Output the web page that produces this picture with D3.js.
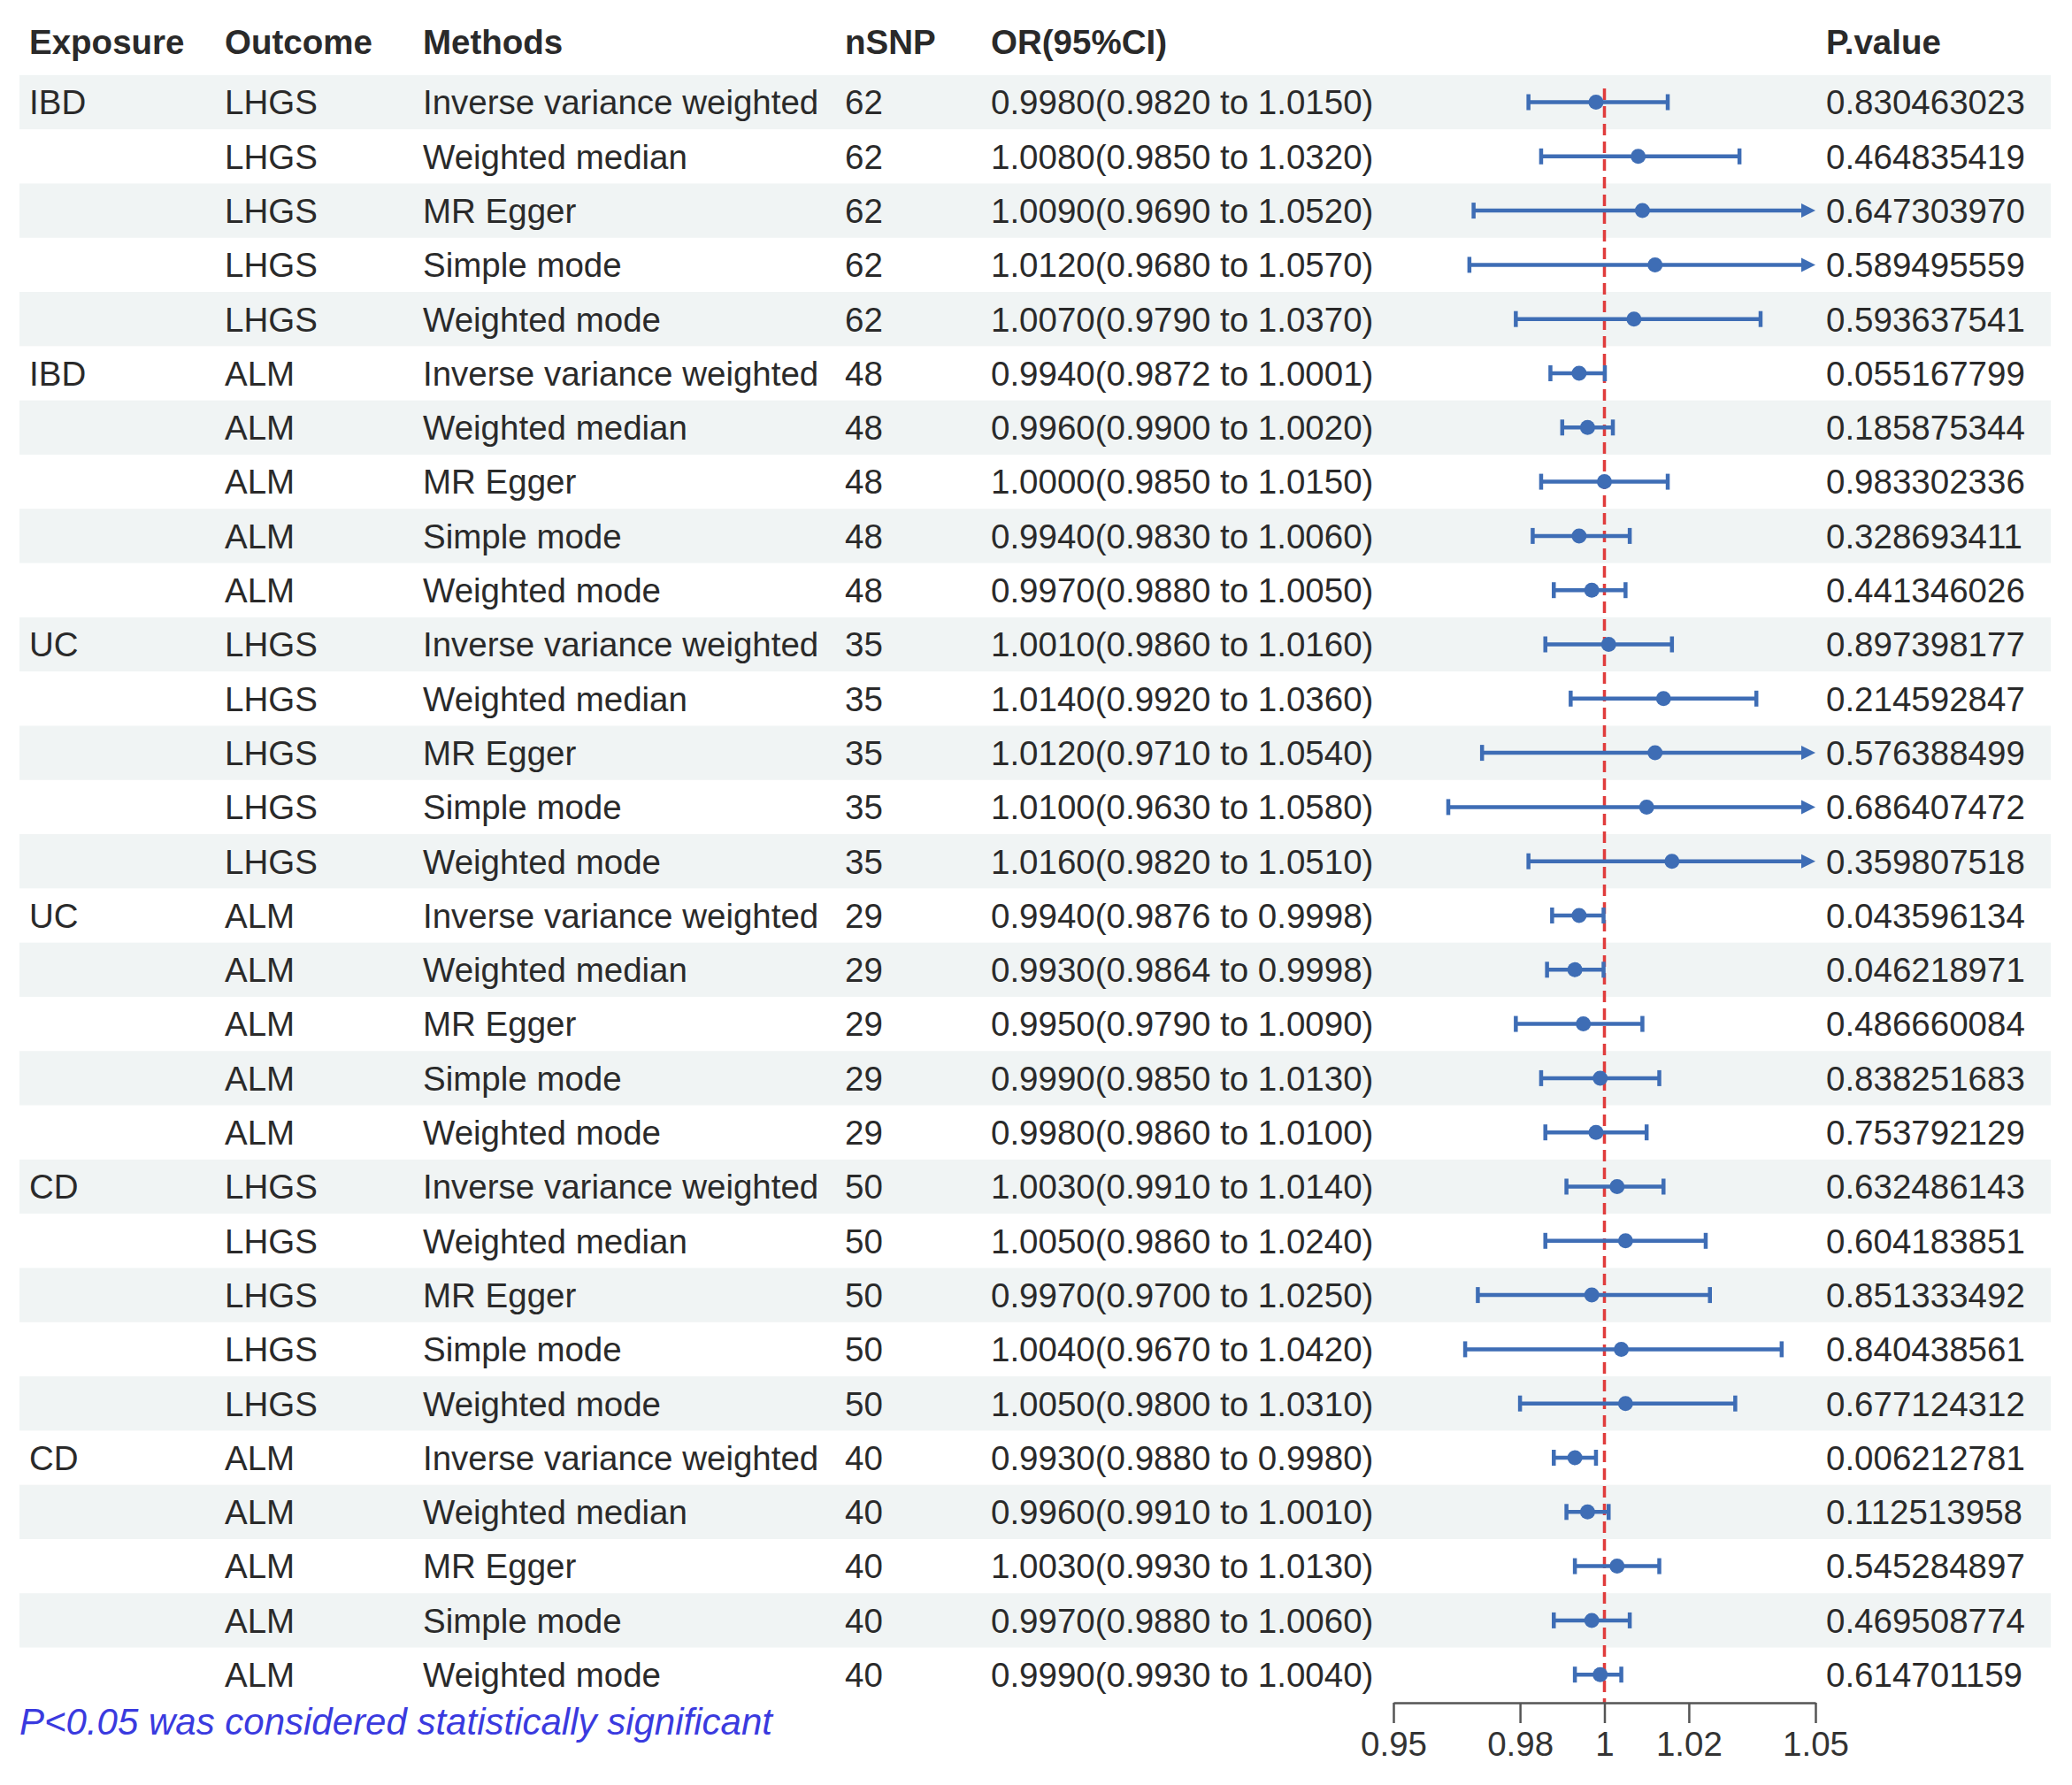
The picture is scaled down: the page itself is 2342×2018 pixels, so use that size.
<!DOCTYPE html>
<html>
<head>
<meta charset="utf-8">
<script src="https://cdn.jsdelivr.net/npm/d3@7"></script>
<style>
  html, body { margin: 0; padding: 0; background: #fff; }
  svg { display: block; }
</style>
</head>
<body>
<svg id="chart" width="2342" height="2018"></svg>
<script>
// ---------------- data ----------------
const headers = ["Exposure", "Outcome", "Methods", "nSNP", "OR(95%CI)", "P.value"];
const exposure = ["IBD","","","","", "IBD","","","","", "UC","","","","", "UC","","","","", "CD","","","","", "CD","","","",""];
const outcome = ["LHGS","LHGS","LHGS","LHGS","LHGS", "ALM","ALM","ALM","ALM","ALM",
                 "LHGS","LHGS","LHGS","LHGS","LHGS", "ALM","ALM","ALM","ALM","ALM",
                 "LHGS","LHGS","LHGS","LHGS","LHGS", "ALM","ALM","ALM","ALM","ALM"];
const methodNames = ["Inverse variance weighted","Weighted median","MR Egger","Simple mode","Weighted mode"];
const methods = d3.range(30).map(i => methodNames[i % 5]);
const nsnp = [62,62,62,62,62, 48,48,48,48,48, 35,35,35,35,35, 29,29,29,29,29, 50,50,50,50,50, 40,40,40,40,40];
const orValue = [0.9980,1.0080,1.0090,1.0120,1.0070, 0.9940,0.9960,1.0000,0.9940,0.9970,
                 1.0010,1.0140,1.0120,1.0100,1.0160, 0.9940,0.9930,0.9950,0.9990,0.9980,
                 1.0030,1.0050,0.9970,1.0040,1.0050, 0.9930,0.9960,1.0030,0.9970,0.9990];
const ciLow = [0.9820,0.9850,0.9690,0.9680,0.9790, 0.9872,0.9900,0.9850,0.9830,0.9880,
               0.9860,0.9920,0.9710,0.9630,0.9820, 0.9876,0.9864,0.9790,0.9850,0.9860,
               0.9910,0.9860,0.9700,0.9670,0.9800, 0.9880,0.9910,0.9930,0.9880,0.9930];
const ciHigh = [1.0150,1.0320,1.0520,1.0570,1.0370, 1.0001,1.0020,1.0150,1.0060,1.0050,
                1.0160,1.0360,1.0540,1.0580,1.0510, 0.9998,0.9998,1.0090,1.0130,1.0100,
                1.0140,1.0240,1.0250,1.0420,1.0310, 0.9980,1.0010,1.0130,1.0060,1.0040];
const pValue = [0.830463023,0.464835419,0.647303970,0.589495559,0.593637541,
                0.055167799,0.185875344,0.983302336,0.328693411,0.441346026,
                0.897398177,0.214592847,0.576388499,0.686407472,0.359807518,
                0.043596134,0.046218971,0.486660084,0.838251683,0.753792129,
                0.632486143,0.604183851,0.851333492,0.840438561,0.677124312,
                0.006212781,0.112513958,0.545284897,0.469508774,0.614701159];
const axisTicks = [0.95, 0.98, 1, 1.02, 1.05];
const axisDomain = [0.95, 1.05];
const refValue = 1;
const footnote = "P<0.05 was considered statistically significant";

// ---------------- layout ----------------
const FONT = "'Liberation Sans', Arial, Helvetica, sans-serif";
const fs = 38.5;
const textColor = "#2a2a2a";
const blue = "#3e6db5";
const rowH = 61.3;
const firstRowCenter = 115.5;
const n = orValue.length;

const svg = d3.select("#chart");

const y = d3.scaleBand()
  .domain(d3.range(n))
  .range([firstRowCenter - rowH / 2, firstRowCenter - rowH / 2 + rowH * n])
  .paddingInner(0).paddingOuter(0);
const yc = i => y(i) + y.bandwidth() / 2;

const x = d3.scaleLinear().domain(axisDomain).range([1575, 2052]);

const colX = [33, 254, 478, 955, 1120, 2064];

// stripes
svg.append("g").selectAll("rect")
  .data(d3.range(n).filter(i => i % 2 === 0))
  .join("rect")
  .attr("x", 22)
  .attr("y", i => y(i))
  .attr("width", 2318 - 22)
  .attr("height", y.bandwidth())
  .attr("fill", "#f0f4f4");

// headers
svg.append("g").selectAll("text")
  .data(headers)
  .join("text")
  .attr("x", (d, i) => colX[i])
  .attr("y", 47 + 0.36 * fs)
  .attr("font-family", FONT)
  .attr("font-size", fs)
  .attr("font-weight", "bold")
  .attr("fill", textColor)
  .text(d => d);

const fmt4 = d3.format(".4f");
const fmtP = d3.format(".9f");
const rows = d3.range(n).map(i => [
  exposure[i], outcome[i], methods[i], String(nsnp[i]),
  `${fmt4(orValue[i])}(${fmt4(ciLow[i])} to ${fmt4(ciHigh[i])})`,
  fmtP(pValue[i])
]);

const rowG = svg.append("g").selectAll("g")
  .data(rows)
  .join("g")
  .attr("transform", (d, i) => `translate(0,${yc(i) + 0.36 * fs})`);

rowG.selectAll("text")
  .data(d => d)
  .join("text")
  .attr("x", (d, j) => colX[j])
  .attr("y", 0)
  .attr("font-family", FONT)
  .attr("font-size", fs)
  .attr("fill", textColor)
  .text(d => d);

// reference dashed line
const axisY = 1925;
svg.append("line")
  .attr("x1", x(refValue)).attr("x2", x(refValue))
  .attr("y1", 100).attr("y2", axisY)
  .attr("stroke", "#e03c3c")
  .attr("stroke-width", 3.5)
  .attr("stroke-dasharray", "13,7");

// forest marks
const lo = axisDomain[0], hi = axisDomain[1];
const capH = 18;
const sw = 4.5;
const forest = svg.append("g").selectAll("g")
  .data(d3.range(n))
  .join("g");

forest.append("line")
  .attr("x1", i => x(Math.max(ciLow[i], lo)))
  .attr("x2", i => ciHigh[i] > hi ? x(hi) - 12 : x(ciHigh[i]))
  .attr("y1", i => yc(i)).attr("y2", i => yc(i))
  .attr("stroke", blue).attr("stroke-width", sw);

// caps
forest.filter(i => ciLow[i] >= lo).append("line")
  .attr("x1", i => x(ciLow[i])).attr("x2", i => x(ciLow[i]))
  .attr("y1", i => yc(i) - capH / 2).attr("y2", i => yc(i) + capH / 2)
  .attr("stroke", blue).attr("stroke-width", sw);
forest.filter(i => ciHigh[i] <= hi).append("line")
  .attr("x1", i => x(ciHigh[i])).attr("x2", i => x(ciHigh[i]))
  .attr("y1", i => yc(i) - capH / 2).attr("y2", i => yc(i) + capH / 2)
  .attr("stroke", blue).attr("stroke-width", sw);

// arrows for clipped upper bounds
forest.filter(i => ciHigh[i] > hi).append("path")
  .attr("d", i => {
    const tx = x(hi), cy = yc(i);
    return `M${tx},${cy} L${tx - 16},${cy - 8} L${tx - 16},${cy + 8} Z`;
  })
  .attr("fill", blue);

// points
forest.append("circle")
  .attr("cx", i => x(orValue[i]))
  .attr("cy", i => yc(i))
  .attr("r", 8.5)
  .attr("fill", blue);

// axis
const axis = d3.axisBottom(x)
  .tickValues(axisTicks)
  .tickFormat(d => String(d))
  .tickSizeInner(23)
  .tickSizeOuter(0)
  .tickPadding(10);

const ag = svg.append("g")
  .attr("transform", `translate(0,${axisY})`)
  .call(axis);
ag.select(".domain").attr("stroke", "#555").attr("stroke-width", 2.5);
ag.selectAll(".tick line").attr("stroke", "#555").attr("stroke-width", 2.5);
ag.selectAll(".tick text")
  .attr("font-family", FONT)
  .attr("font-size", fs)
  .attr("fill", "#333");

// footnote
svg.append("text")
  .attr("x", 22)
  .attr("y", 1946 + 0.36 * 42)
  .attr("font-family", FONT)
  .attr("font-size", 42)
  .attr("font-style", "italic")
  .attr("fill", "#3a3adf")
  .text(footnote);
</script>
</body>
</html>
